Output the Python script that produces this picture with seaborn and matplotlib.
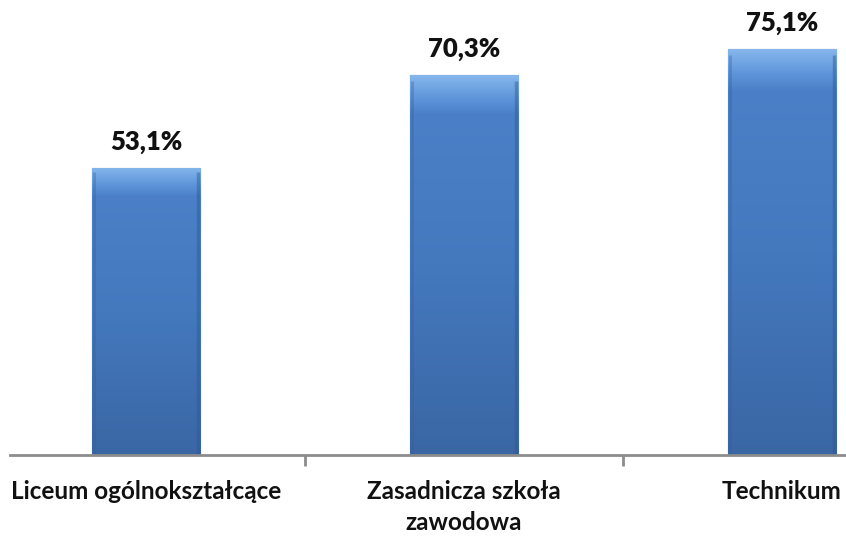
import numpy as np
import pandas as pd
import matplotlib
matplotlib.use("Agg")
import matplotlib.pyplot as plt
import seaborn as sns
from matplotlib.colors import LinearSegmentedColormap

categories = ["Liceum ogólnokształcące", "Zasadnicza szkoła\nzawodowa", "Technikum"]
values = [53.1, 70.3, 75.1]
value_labels = ["53,1%", "70,3%", "75,1%"]

df = pd.DataFrame({"cat": categories, "val": values})

sns.set_theme(style="white")
plt.rcParams["font.family"] = ["Lato", "DejaVu Sans"]

fig = plt.figure(figsize=(8.46, 5.36), dpi=100)
ax = fig.add_axes([10 / 846, 1 - 455 / 536, 836 / 846, 455 / 536])

sns.barplot(data=df, x="cat", y="val", ax=ax, color="#4A7CC2",
            width=0.34, edgecolor="#2F5B96", linewidth=0.8, saturation=1)

# vertical gradient overlay clipped to each bar
cmap = LinearSegmentedColormap.from_list(
    "bevel", [(0.0, "#3A66A4"), (0.5, "#4479BE"), (0.9, "#4B80C8"),
              (0.94, "#5E95DA"), (1.0, "#85B6EC")])
grad = np.linspace(0, 1, 256).reshape(-1, 1)
for p in ax.patches:
    x0, y0 = p.get_x(), p.get_y()
    w, h = p.get_width(), p.get_height()
    im = ax.imshow(grad, extent=[x0, x0 + w, y0, y0 + h], origin="lower",
                   cmap=cmap, aspect="auto", zorder=p.get_zorder() + 0.1)
    im.set_clip_path(p)
    # darker side edges (bevel)
    ax.plot([x0 + w * 0.985] * 2, [y0, y0 + h * 0.985], color="#2E5890",
            lw=2.5, alpha=0.45, zorder=p.get_zorder() + 0.2, solid_capstyle="butt")
    ax.plot([x0 + w * 0.015] * 2, [y0, y0 + h * 0.985], color="#345F99",
            lw=2, alpha=0.35, zorder=p.get_zorder() + 0.2, solid_capstyle="butt")

for p, lab in zip(ax.patches, value_labels):
    ax.text(p.get_x() + p.get_width() / 2, p.get_height() + 2.6, lab,
            ha="center", va="bottom", fontsize=18.5, fontweight="heavy", color="#111111")

x_scale = 318.0
ax.set_xlim((10 - 146) / x_scale, (846 - 146) / x_scale)
ax.set_ylim(0, 455 / 5.405)

ax.set_xlabel("")
ax.set_ylabel("")
ax.set_yticks([])
for s in ["top", "right", "left"]:
    ax.spines[s].set_visible(False)
ax.spines["bottom"].set_color("#8C8C8C")
ax.spines["bottom"].set_linewidth(2)

ax.set_xticks([0, 1, 2])
ax.set_xticklabels(categories, fontsize=17.5, fontweight="bold", color="#111111",
                   linespacing=1.4)
ax.tick_params(axis="x", which="major", length=0, pad=18)
ax.set_xticks([0.5, 1.5], minor=True)
ax.tick_params(axis="x", which="minor", length=8, width=2, color="#8C8C8C",
               direction="out", bottom=True)

fig.savefig("out.png", dpi=100)
